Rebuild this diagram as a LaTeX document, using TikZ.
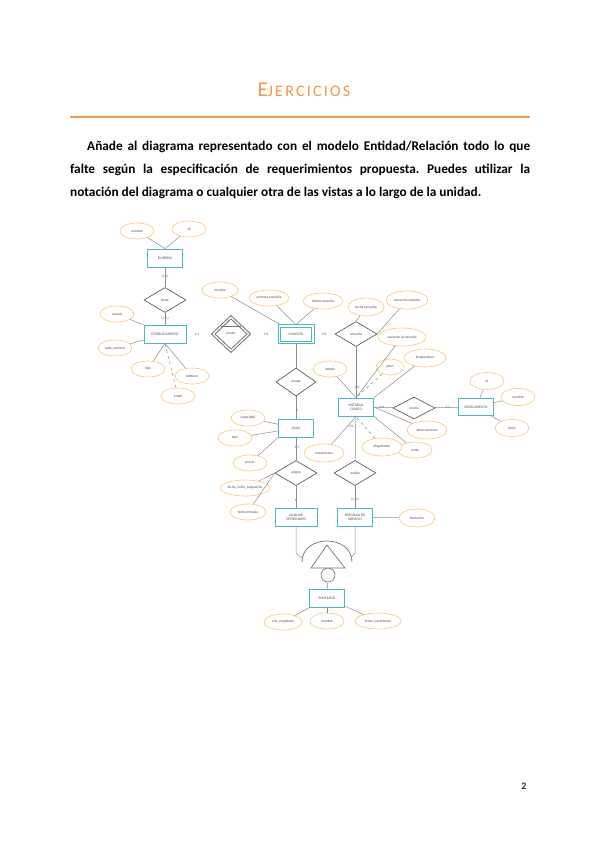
\documentclass[tikz,border=0pt]{standalone}
\usepackage{fontspec}
\setmainfont{Carlito}
\usetikzlibrary{shapes.geometric}
\definecolor{naranja}{RGB}{247,150,70}
\definecolor{turq}{RGB}{75,185,190}
\definecolor{attrc}{RGB}{248,200,120}
\newcommand{\diag}{\fontsize{3.6}{4.1}\selectfont}
\frenchspacing

\begin{document}
\begin{tikzpicture}[x=1pt,y=-1pt]
	\tikzstyle{ent} = [draw=turq, line width=0.8pt, fill=white, minimum width=35pt, minimum height=18pt, inner sep=0.5pt, align=center, font=\diag, text=black!70]
	\tikzstyle{attr} = [ellipse, draw=attrc, line width=0.6pt, fill=white, minimum width=34pt, minimum height=16pt, inner sep=0pt, font=\diag, text=black!70]
	\tikzstyle{rel} = [diamond, draw=black!70, line width=0.6pt, fill=white, minimum width=42pt, minimum height=25pt, inner sep=0pt, font=\diag, text=black!70]
	\tikzstyle{wrel} = [diamond, draw=black!55, line width=1pt, double=white, double distance=1.3pt, fill=white, minimum width=36pt, minimum height=34pt, inner sep=0pt, font=\diag, text=black!70]
	\tikzstyle{card} = [inner sep=0.5pt, font=\diag, text=black!60]
	\tikzstyle{ln} = [draw=black!45, line width=0.5pt]
	\fill[white] (0,0) rectangle (599,848);
	\useasboundingbox (0,0) rectangle (599,848);
	% cabecera
	\node[anchor=base] (tit) at (304,97) {\color{naranja}\addfontfeature{LetterSpace=14}\fontsize{21}{21}\selectfont E\fontsize{16}{16}\selectfont JERCICIOS};
	\draw[naranja, line width=1.3pt] (70,117) -- (530,117);
	\node[anchor=north west, inner sep=0pt, text width=460pt, align=justify, font=\fontsize{13.3}{23}\selectfont\bfseries] (enun) at (70,141) {\hspace*{17pt}Añade al diagrama representado con el modelo Entidad/Relación todo lo que\linebreak falte según la especificación de requerimientos propuesta. Puedes utilizar la\linebreak notación del diagrama o cualquier otra de las vistas a lo largo de la unidad.};
	\node[font=\fontsize{10}{10}\selectfont\bfseries, text=black!80] (pag) at (524,786) {2};
	% empresa - establecimiento
	\node[ent] (e1) at (165,258) {EMPRESA};
	\node[attr] (a1) at (137,231) {nombre};
	\node[attr] (a2) at (189,229) {cif};
	\draw[ln] (a1) -- (e1.north);
	\draw[ln] (a2) -- (e1.north);
	\node[card] at (165,276) {(1,1)};
	\node[rel] (r1) at (165,300) {tiene};
	\node[card] at (165,318) {(1,N)};
	\node[ent, minimum width=42pt] (e2) at (165,334) {ESTABLECIMIENTO};
	\draw[ln] (e1) -- (r1);
	\draw[ln] (r1) -- (e2);
	\node[attr] (b1) at (117,314) {ciudad};
	\node[attr] (b2) at (115,348) {calle\_número};
	\node[attr] (b3) at (148,369) {tipo};
	\node[attr] (b4) at (192,376) {teléfono};
	\node[attr] (b5) at (178,396) {email};
	\draw[ln] (b1) -- (e2);
	\draw[ln] (b2) -- (e2);
	\draw[ln] (b3) -- (e2.south);
	\draw[ln] (b4) -- (e2.south);
	\draw[ln, dashed] (b5) -- (e2.south);
	\node[card] at (197,334) {1:1};
	% mascota
	\node[wrel] (r2) at (231,334) {\\[3pt]posee};
	\draw[draw=black!55, line width=0.8pt] ([xshift=-10pt,yshift=8pt]r2.center) -- ([xshift=10pt,yshift=8pt]r2.center);
	\node[card] at (266,334) {1:N};
	\node[ent, minimum width=31pt, minimum height=14pt] (e3) at (296,334) {MASCOTA};
	\draw[turq, line width=0.8pt] ([shift={(-2pt,2pt)}]e3.north west) rectangle ([shift={(2pt,-2pt)}]e3.south east);
	\node[card] at (324,334) {1:N};
	\node[attr, minimum width=36pt] (c1) at (220,290) {nombre};
	\node[attr, minimum width=40pt] (c2) at (269,298) {primera consulta};
	\node[attr, minimum width=40pt] (c3) at (323,301) {última consulta};
	\draw[ln] (c1) -- ([yshift=2pt]e3.north west);
	\draw[ln] (c2) -- ([yshift=2pt]e3.north);
	\draw[ln] (c3) -- ([yshift=2pt]e3.north);
	% consulta
	\node[rel] (r3) at (356,334) {consulta};
	\node[attr, minimum width=36pt, minimum height=18pt] (d1) at (366,307) {fecha consulta};
	\node[attr, minimum width=42pt, minimum height=18pt] (d2) at (407,300) {duración consulta};
	\draw[ln] (d1) -- (r3.north);
	\draw[ln] (d2) -- (r3.east);
	\node[ent] (e4) at (356,407) {HISTORIAL\\CLÍNICO};
	\node[card] at (357,387) {1:N};
	\draw[ln] (r3) -- (e4);
	\node[attr] (f1) at (330,369) {estado};
	\node[attr, minimum width=48pt, minimum height=18pt] (f2) at (402,337) {causa de la consulta};
	\node[attr, minimum width=28pt] (f3) at (390,367) {peso};
	\node[attr, minimum width=42pt, minimum height=18pt] (f4) at (425,358) {temperatura};
	\node[attr, minimum width=40pt, minimum height=18pt] (f5) at (427,430) {observaciones};
	\node[attr] (f6) at (415,450) {coste};
	\node[attr, minimum width=40pt, minimum height=18pt] (f7) at (382,447) {diagnóstico};
	\node[attr, minimum width=40pt, minimum height=18pt] (f8) at (324,453) {tratamiento};
	\draw[ln] (f1) -- (e4.north);
	\draw[ln] (f2) -- (e4.north);
	\draw[ln, dashed] (f3) -- (e4.north);
	\draw[ln] (f4) -- (e4.north east);
	\draw[ln] (f5) -- (e4.east);
	\draw[ln] (f6) -- (e4.south east);
	\draw[ln, dashed] (f7) -- (e4.south);
	\draw[ln] (f8) -- (e4.south);
	\node[card] at (351,426) {1:N};
	% medicamento
	\node[rel, minimum height=22pt] (r4) at (414,408) {receta};
	\node[card] at (382,407) {0:N};
	\node[card] at (448,407) {1:1};
	\node[ent, minimum height=17pt] (e5) at (476,407) {MEDICAMENTO};
	\draw[ln] (e4) -- (r4);
	\draw[ln] (r4) -- (e5);
	\node[attr, minimum height=17pt] (g1) at (487,381) {id};
	\node[attr, minimum height=17pt] (g2) at (518,397) {nombre};
	\node[attr, minimum height=17pt] (g3) at (512,428) {dosis};
	\draw[ln] (g1) -- (e5);
	\draw[ln] (g2) -- (e5);
	\draw[ln] (g3) -- (e5);
	% personal de servicio
	\node[rel] (r5) at (355,473) {realiza};
	\node[card] at (355,499) {(1,N)};
	\node[ent] (e6) at (355,517) {PERSONAL DE\\SERVICIO};
	\draw[ln] (e4) -- (r5);
	\draw[ln] (r5) -- (e6);
	\node[attr, minimum width=36pt, minimum height=18pt] (h1) at (417,518) {titulación};
	\draw[ln] (h1) -- (e6);
	% jaula
	\node[rel, minimum width=40pt, minimum height=28pt] (r6) at (296,382) {ocupa};
	\node[card] at (297,410) {N};
	\node[ent] (e7) at (296,428) {JAULA};
	\draw[ln] ([yshift=-2pt]e3.south) -- (r6);
	\draw[ln] (r6) -- (e7);
	\node[attr] (k1) at (248,418) {capacidad};
	\node[attr] (k2) at (235,438) {tipo};
	\node[attr] (k3) at (250,463) {precio};
	\draw[ln] (k1) -- (e7);
	\draw[ln] (k2) -- (e7);
	\draw[ln] (k3) -- (e7.south west);
	\node[card] at (297,447) {1:1};
	\node[rel] (r7) at (296,473) {asigna};
	\node[attr, minimum width=44pt] (m1) at (245,488) {fecha\_inicio\_asignación};
	\node[attr, minimum width=36pt] (m2) at (248,512) {fecha entrada};
	\draw[ln] (m1) -- (r7.west);
	\draw[ln] (m2) -- (r7.west);
	\node[card] at (296,500) {N};
	\node[ent, minimum width=42pt] (e8) at (296,517) {AUXILIAR\\VETERINARIO};
	\draw[ln] (e7) -- (r7);
	\draw[ln] (r7) -- (e8);
	% generalizacion
	\draw[draw=black!55, line width=0.7pt] (302,562) .. controls (302,534) and (352,534) .. (352,562);
	\draw[draw=black!55, line width=0.7pt] (327,545) -- (311,568) -- (345,568) -- cycle;
	\node[circle, draw=black!55, line width=0.6pt, minimum size=14pt, inner sep=0pt] (isa) at (328,575) {};
	\coordinate (isaL) at (302,558);
	\coordinate (isaR) at (351,558);
	\draw[ln] (e8.south) -- (e8.south |- 0,553) -- (isaL);
	\draw[ln] (e6.south) -- (e6.south |- 0,553) -- (isaR);
	\node[ent] (e9) at (327,598) {EMPLEADO};
	\draw[ln] (isa) -- (e9);
	\node[attr, minimum width=38pt] (n1) at (283,622) {cód\_empleado};
	\node[attr] (n2) at (327,621) {nombre};
	\node[attr, minimum width=46pt] (n3) at (378,621) {fecha\_nacimiento};
	\draw[ln] (n1) -- (e9);
	\draw[ln] (n2) -- (e9);
	\draw[ln] (n3) -- (e9);
\end{tikzpicture}
\end{document}
